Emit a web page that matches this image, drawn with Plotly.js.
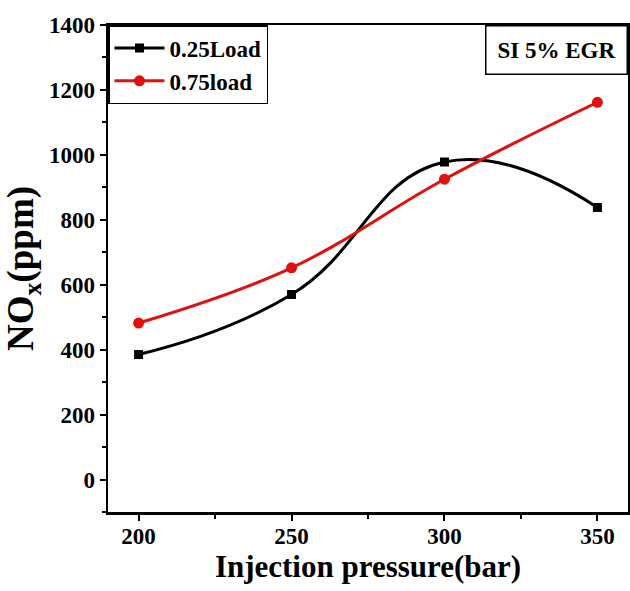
<!DOCTYPE html>
<html><head><meta charset="utf-8">
<script src="https://cdn.plot.ly/plotly-3.0.1.min.js"></script>
<style>body{margin:0;background:#fff}#c{width:630px;height:591px}</style>
</head><body><div id="c"></div>
<script>
const pressure = [200, 250, 300, 350];
const load025 = [385, 570, 978, 838];
const load075 = [482, 652, 925, 1162];
const seriesNames = ['0.25Load', '0.75load'];
const xTicks = [200, 250, 300, 350];
const yTicks = [0, 200, 400, 600, 800, 1000, 1200, 1400];

const font = {family: '"Liberation Serif", "Times New Roman", serif', color: '#000'};
const traces = [
  {x: pressure, y: load025, name: seriesNames[0], mode: 'lines+markers',
   line: {color: '#000', width: 3, shape: 'spline', smoothing: 1.3},
   marker: {symbol: 'square', size: 9, color: '#000'}},
  {x: pressure, y: load075, name: seriesNames[1], mode: 'lines+markers',
   line: {color: '#e01010', width: 3, shape: 'spline', smoothing: 1.1},
   marker: {symbol: 'circle', size: 11, color: '#e01010'}}
];
const axisCommon = {showline: true, linecolor: '#000', linewidth: 2.5, mirror: true,
  ticks: 'outside', ticklen: 6, tickwidth: 2, tickcolor: '#000', showgrid: false, zeroline: false,
  tickfont: Object.assign({}, font, {size: 23, weight: 'bold'})};
const layout = {
  width: 630, height: 591,
  margin: {l: 108, r: 2, t: 25, b: 79},
  paper_bgcolor: '#fff', plot_bgcolor: '#fff',
  showlegend: true,
  legend: {x: 0, y: 1, xanchor: 'left', yanchor: 'top', bordercolor: '#000', borderwidth: 1.5,
    bgcolor: '#fff', font: Object.assign({}, font, {size: 23, weight: 'bold'}), tracegroupgap: 4,
    itemwidth: 50},
  xaxis: Object.assign({}, axisCommon, {range: [190, 360], tickvals: xTicks, ticktext: xTicks.map(String),
    ticklabelstandoff: -4,
    minor: {dtick: 25, tick0: 175, ticks: 'outside', ticklen: 4, tickwidth: 2, tickcolor: '#000'},
    title: {text: 'Injection pressure(bar)', font: Object.assign({}, font, {size: 31, weight: 'bold'}), standoff: 6}}),
  yaxis: Object.assign({}, axisCommon, {range: [-100, 1400], tickvals: yTicks, ticktext: yTicks.map(String),
    minor: {dtick: 100, tick0: 0, ticks: 'outside', ticklen: 4, tickwidth: 2, tickcolor: '#000'},
    title: {text: 'NO<sub>x</sub>(ppm)', font: Object.assign({}, font, {size: 37, weight: 'bold'}), standoff: 10}}),
  annotations: [{xref: 'paper', yref: 'paper', x: 1, y: 1, xanchor: 'right', yanchor: 'top',
    text: 'SI 5% EGR', showarrow: false, bordercolor: '#000', borderwidth: 1.5, borderpad: 11,
    bgcolor: '#fff', font: Object.assign({}, font, {size: 23, weight: 'bold'})}]
};
Plotly.newPlot('c', traces, layout, {displayModeBar: false, staticPlot: true});
</script></body></html>
